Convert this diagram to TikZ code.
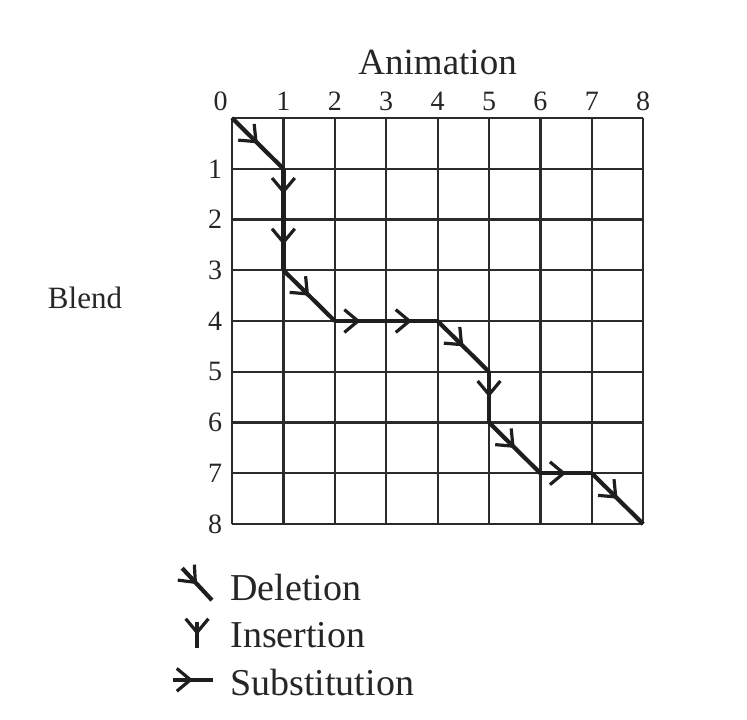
\documentclass[tikz,border=0pt]{standalone}
\usepackage{fontspec}
\setmainfont{Liberation Serif}
\usetikzlibrary{arrows.meta,decorations.markings}
\definecolor{gridink}{HTML}{2B2B2B}
\definecolor{pathink}{HTML}{1E1E1E}
\definecolor{labelink}{HTML}{262626}

\begin{document}
\begin{tikzpicture}[
  x={(25.7pt,0pt)},
  y={(0pt,-25.375pt)},
  line join=round,
  gridline/.style={draw=gridink,line width=1.1pt},
  move/.style={draw=pathink,line width=2.1pt,
    postaction={decorate},
    decoration={markings,
      mark=at position 0.5 with {\arrow{Straight Barb[length=2.4mm,width=4mm,line width=1.6pt]}}}},
  rowlabel/.style={text=labelink,font=\fontsize{14}{16}\selectfont},
  legend/.style={text=labelink,anchor=base west,inner xsep=0pt,font=\fontsize{19}{22}\selectfont}
]
  % Page size of the scanned figure, grid corner (0,0) at the top left.
  \useasboundingbox (-116pt,59pt) rectangle (257.5pt,-300.5pt);

  % Alignment grid: Animation frames across, Blend frames down.
  \foreach \i in {0,...,8} {
    \draw[gridline] (\i,0) -- (\i,8);
    \draw[gridline] (0,\i) -- (8,\i);
  }

  % Frame numbers along both sides.
  \node[rowlabel] (c0) at (-0.22,-0.33) {0};
  \foreach \i in {1,...,8} {
    \node[rowlabel] (c\i) at (\i,-0.33) {\i};
    \node[rowlabel] (r\i) at (-0.33,\i) {\i};
  }

  \node[text=labelink,font=\fontsize{18.5}{22}\selectfont] (animation) at (4,-1.1) {Animation};
  \node[text=labelink,font=\fontsize{15.5}{18}\selectfont] (blend) at (-2.86,3.55) {Blend};

  % Warping path through the grid.
  \coordinate (P0) at (0,0);
  \coordinate (P1) at (1,1);
  \coordinate (P2) at (1,2);
  \coordinate (P3) at (1,3);
  \coordinate (P4) at (2,4);
  \coordinate (P5) at (3,4);
  \coordinate (P6) at (4,4);
  \coordinate (P7) at (5,5);
  \coordinate (P8) at (5,6);
  \coordinate (P9) at (6,7);
  \coordinate (P10) at (7,7);
  \coordinate (P11) at (8,8);

  \foreach \a/\b in {P0/P1,P1/P2,P2/P3,P3/P4,P4/P5,P5/P6,P6/P7,P7/P8,P8/P9,P9/P10,P10/P11} {
    \draw[move] (\a) -- (\b);
  }

  % Legend.
  \coordinate (delA) at (-0.97,8.87);
  \coordinate (delB) at (-0.39,9.50);
  \coordinate (insA) at (-0.68,9.93);
  \coordinate (insB) at (-0.68,10.44);
  \coordinate (subA) at (-1.15,11.07);
  \coordinate (subB) at (-0.37,11.07);
  \draw[move] (delA) -- (delB);
  \draw[move] (insA) -- (insB);
  \draw[move] (subA) -- (subB);
  \node[legend] (deletion) at (-0.04,9.50) {Deletion};
  \node[legend] (insertion) at (-0.04,10.44) {Insertion};
  \node[legend] (substitution) at (-0.04,11.37) {Substitution};
\end{tikzpicture}
\end{document}
